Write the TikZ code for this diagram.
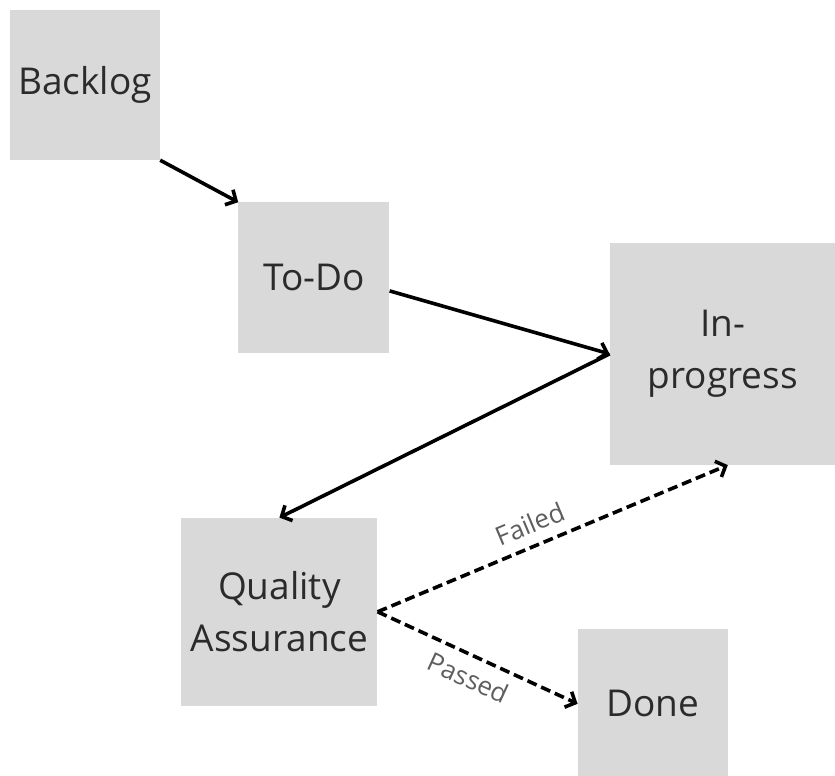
\documentclass[tikz,border=0pt]{standalone}
\usepackage{fontspec}
\setmainfont{Open Sans}
\usetikzlibrary{arrows.meta,positioning}
\definecolor{boxgrey}{HTML}{D9D9D9}
\definecolor{ink}{HTML}{2B2B2B}
\definecolor{tagtext}{HTML}{5E5E5E}
\tikzset{
  stage/.style={fill=boxgrey,text=ink,align=center,font=\fontsize{37}{52}\selectfont,inner sep=0pt,minimum width=150pt,minimum height=150pt},
  flow/.style={-{Straight Barb[length=8pt,width=17pt]},line width=3.6pt,draw=black},
  verdict/.style={flow,dash pattern=on 10pt off 5pt},
  tag/.style={font=\fontsize{26}{30}\selectfont,text=tagtext,sloped}
}

\begin{document}
\begin{tikzpicture}[x=1pt,y=1pt]
\useasboundingbox (0,0) rectangle (835,-776);
\node[stage] (backlog) at (85,-85) {Backlog};
\node[stage,minimum width=151pt,minimum height=151pt,below right=42pt and 78pt of backlog] (todo) {To-Do};
\node[stage,minimum width=226pt,minimum height=222pt,right=220pt of todo,yshift=-76pt] (inprog) {In-\\progress};
\node[stage,minimum width=196pt,minimum height=188pt,below=164pt of todo,xshift=-34.5pt] (qa) {Quality\\Assurance};
\node[stage,right=200pt of qa,yshift=-92pt] (done) {Done};

\draw[flow] (backlog.south east) -- (todo.north west);
\draw[flow] ([yshift=-13pt]todo.east) -- (inprog.west);
\draw[flow] (inprog.west) -- (qa.north);
\draw[verdict] (qa.east) -- node[tag,above=7pt,pos=0.46]{Failed} ([xshift=5pt]inprog.south);
\draw[verdict] (qa.east) -- node[tag,below=7pt,pos=0.5]{Passed} (done.west);
\end{tikzpicture}
\end{document}
